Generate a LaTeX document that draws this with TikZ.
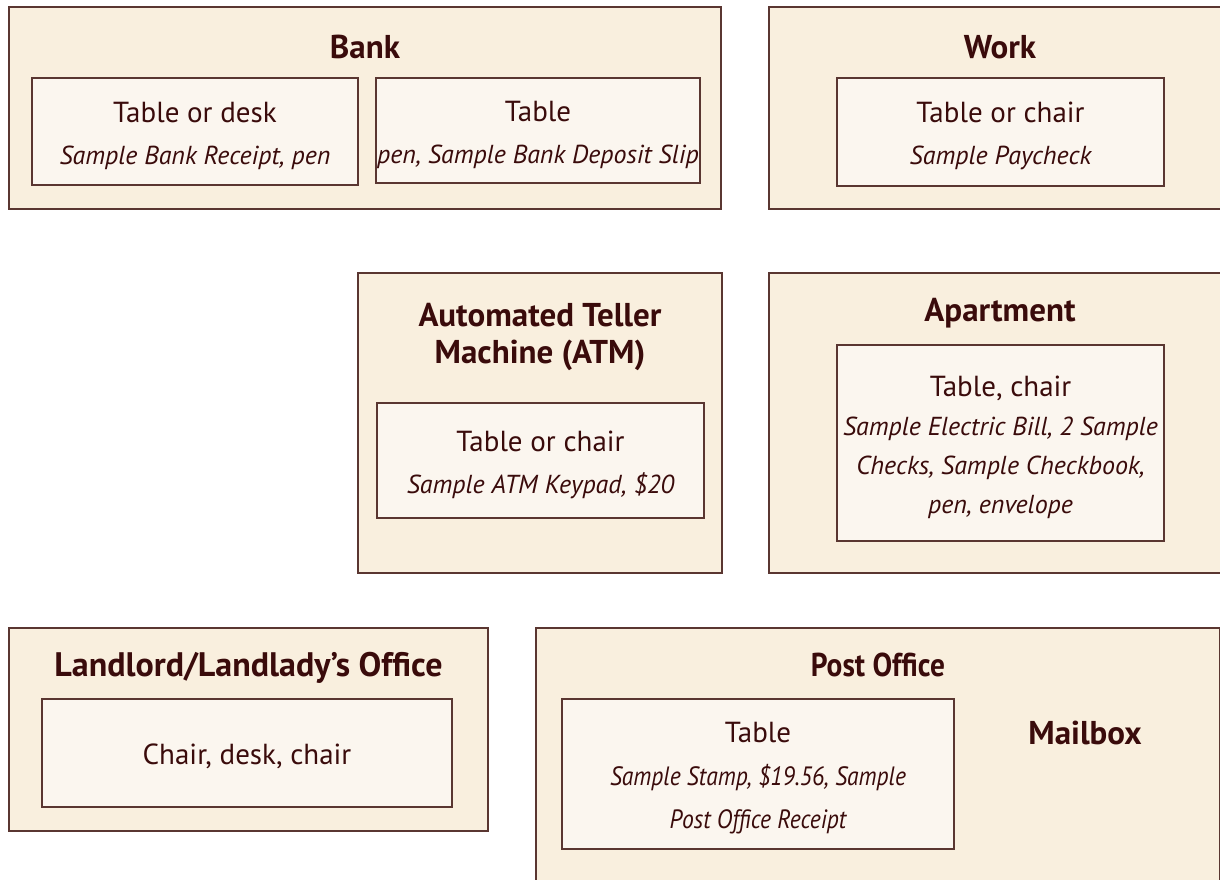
\documentclass[tikz,border=0pt]{standalone}
\usepackage{fontspec}
\setmainfont{PT Sans}
\newfontfamily\narrowsans[FakeStretch=0.89]{PT Sans}
\usetikzlibrary{positioning}
\definecolor{roomfill}{HTML}{F9EFDE}
\definecolor{spotfill}{HTML}{FBF6EF}
\definecolor{roomline}{HTML}{5A3631}
\definecolor{roomtext}{HTML}{3A0B0B}
\newcommand{\itm}[1]{{\fontsize{26}{42}\selectfont\itshape #1}}
\newcommand{\nitm}[1]{{\narrowsans\fontsize{26.5}{42}\selectfont\itshape #1}}

\begin{document}
\begin{tikzpicture}[x=1pt,y=-1pt,font=\fontsize{29}{42}\selectfont,text=roomtext,
  room/.style={rectangle,draw=roomline,fill=roomfill,line width=1.4pt,inner sep=0pt},
  spot/.style={rectangle,draw=roomline,fill=spotfill,line width=1.4pt,inner sep=0pt},
  spottext/.style={align=center,inner sep=0pt,yshift=-4pt},
  title/.style={font=\fontsize{33}{37}\selectfont\bfseries,align=center}]
  \useasboundingbox (0,0) rectangle (1220,879);
  % top row
  \node[room,minimum width=712pt,minimum height=202pt] (bank) at (365,108) {};
  \node[title] (banklbl) at (365,47) {Bank};
  \node[spot,minimum width=326pt,minimum height=107pt] (bankdesk) at (195,131.5) {};
  \node[spottext] (bankdesktxt) at (bankdesk.center) {Table or desk\\ \itm{Sample Bank Receipt, pen}};
  \node[spot,minimum width=324pt,minimum height=105pt] (banktable) at (538,130.5) {};
  \node[spottext] (banktabletxt) at (banktable.center) {Table\\ \itm{pen, Sample Bank Deposit Slip}};
  \node[room,minimum width=462pt,minimum height=202pt] (work) at (1000,108) {};
  \node[title] (worklbl) at (1000,47) {Work};
  \node[spot,minimum width=327pt,minimum height=108pt] (workchair) at (1000.5,132) {};
  \node[spottext] (workchairtxt) at (workchair.center) {Table or chair\\ \itm{Sample Paycheck}};
  % middle row
  \node[room,minimum width=364pt,minimum height=300pt] (atm) at (540,423) {};
  \node[title] (atmlbl) at (540,337) {Automated Teller\\ Machine (ATM)};
  \node[spot,minimum width=327pt,minimum height=115pt] (atmchair) at (540.5,460.5) {};
  \node[spottext] (atmchairtxt) at (atmchair.center) {Table or chair\\ \itm{Sample ATM Keypad, \$20}};
  \node[room,minimum width=462pt,minimum height=300pt] (apt) at (1000,423) {};
  \node[title] (aptlbl) at (1000,313) {Apartment};
  \node[spot,minimum width=327pt,minimum height=196pt] (aptchair) at (1000.5,443) {};
  \node[spottext] (aptchairtxt) at (aptchair.center) {Table, chair\\[-3pt] \itm{Sample Electric Bill, 2 Sample}\\[-3pt] \itm{Checks, Sample Checkbook,}\\[-3pt] \itm{pen, envelope}};
  % bottom row
  \node[room,minimum width=479pt,minimum height=203pt] (office) at (248.5,729.5) {};
  \node[title,font=\fontsize{34}{37}\selectfont\bfseries] (officelbl) at (248.5,668) {Landlord/Landlady's Office};
  \node[spot,minimum width=410pt,minimum height=108pt] (officedesk) at (247,753) {};
  \node[spottext,yshift=1pt] (officedesktxt) at (officedesk.center) {Chair, desk, chair};
  \node[room,minimum width=684pt,minimum height=270pt] (post) at (878,763) {};
  \node[title,font=\narrowsans\fontsize{33}{37}\selectfont\bfseries] (postlbl) at (878,665) {Post Office};
  \node[spot,minimum width=392pt,minimum height=150pt] (posttable) at (758,774) {};
  \node[spottext] (posttabletxt) at (posttable.center) {Table\\[1pt] \nitm{Sample Stamp, \$19.56, Sample}\\[1pt] \nitm{Post Office Receipt}};
  \node[title] (mailbox) at (1085,733) {Mailbox};
\end{tikzpicture}
\end{document}
